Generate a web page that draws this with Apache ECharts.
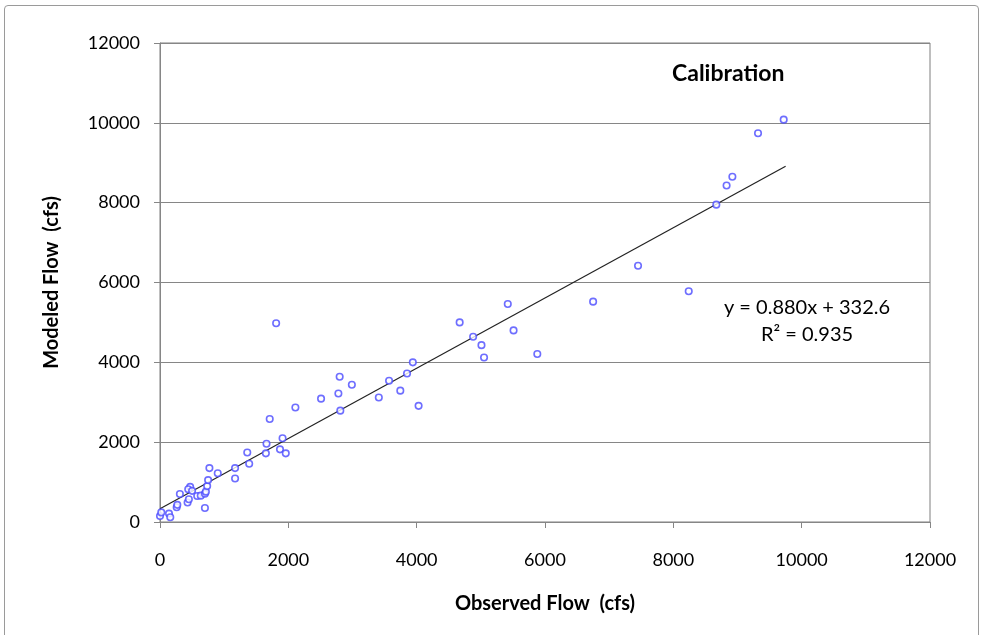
<!DOCTYPE html>
<html>
<head>
<meta charset="utf-8">
<script src="https://cdn.jsdelivr.net/npm/echarts@6/dist/echarts.min.js"></script>
<style>
  html, body { margin: 0; padding: 0; background: #fff; }
  .frame {
    position: absolute; left: 4px; top: 5px; width: 975px; height: 640px;
    border: 1px solid #9a9a9a; border-radius: 4px; box-sizing: border-box;
  }
  #main { position: absolute; left: 0; top: 0; width: 983px; height: 635px; }
</style>
</head>
<body>
<div class="frame"></div>
<div id="main"></div>
<script>
// observed / modeled pairs (cfs)
const observed = [0, 20, 140, 160, 260, 270, 310, 430, 450, 470, 440, 500, 580, 635, 700, 715, 735, 750, 700, 770,
  900, 1170, 1170, 1360, 1390, 1650, 1660, 1870, 1910, 1960, 1710, 2110, 1810, 2510, 2780, 2800, 2810, 2990, 3410, 3570,
  3745, 3850, 3940, 4030, 4670, 4880, 5010, 5050, 5420, 5510, 5880, 6750, 7450, 8240, 8670, 8830, 8920, 9320, 9720]
const modeled = [150, 240, 210, 120, 370, 430, 700, 490, 570, 880, 820, 780, 650, 660, 710, 760, 900, 1050, 350, 1350,
  1220, 1350, 1090, 1740, 1460, 1720, 1960, 1820, 2100, 1720, 2580, 2870, 4980, 3090, 3220, 3640, 2790, 3440, 3120, 3540,
  3290, 3720, 4000, 2910, 5000, 4640, 4430, 4120, 5460, 4800, 4210, 5520, 6420, 5780, 7950, 8430, 8650, 9740, 10080]
const axisTicks = [0, 2000, 4000, 6000, 8000, 10000, 12000]
// linear trend shown on the chart
const slope = 0.880
const intercept = 332.6
const trendX = [0, 9750]

const points = observed.map((x, i) => [x, modeled[i]])
const trend = trendX.map(x => [x, slope * x + intercept])

const font = 'Lato, "Open Sans", sans-serif'
const myChart = echarts.init(document.getElementById('main'))
myChart.setOption({
  animation: false,
  grid: {
    left: 160, top: 43, width: 770, height: 479,
    show: true, borderColor: '#7f7f7f', borderWidth: 1, backgroundColor: '#fff'
  },
  xAxis: {
    type: 'value',
    min: axisTicks[0], max: axisTicks[axisTicks.length - 1], interval: 2000,
    name: 'Observed Flow  (cfs)',
    nameLocation: 'middle',
    nameGap: 72,
    nameTextStyle: { fontFamily: font, fontWeight: 'bold', fontSize: 20, color: '#000' },
    axisLine: { lineStyle: { color: '#868686' } },
    axisTick: { show: true, length: 6, inside: false, lineStyle: { color: '#868686' } },
    axisLabel: { margin: 29, fontFamily: font, fontSize: 18, color: '#000', formatter: v => String(v) },
    splitLine: { show: false }
  },
  yAxis: {
    type: 'value',
    min: axisTicks[0], max: axisTicks[axisTicks.length - 1], interval: 2000,
    name: 'Modeled Flow  (cfs)',
    nameLocation: 'middle',
    nameGap: 98,
    nameTextStyle: { fontFamily: font, fontWeight: 'bold', fontSize: 20, color: '#000' },
    axisLine: { show: true, lineStyle: { color: '#868686' } },
    axisTick: { show: true, length: 6, lineStyle: { color: '#868686' } },
    axisLabel: { margin: 20, fontFamily: font, fontSize: 18, color: '#000', formatter: v => String(v) },
    splitLine: { show: true, lineStyle: { color: '#868686', width: 1 } }
  },
  series: [
    {
      name: 'Calibration',
      type: 'scatter',
      data: points,
      symbol: 'circle',
      symbolSize: 6.5,
      itemStyle: { color: '#fff', borderColor: '#4a4aff', borderWidth: 1.6 },
      z: 3
    },
    {
      name: 'Trend',
      type: 'line',
      data: trend,
      symbol: 'none',
      lineStyle: { color: '#222', width: 1.2 },
      z: 2
    }
  ],
  graphic: [
    {
      type: 'text', left: 672, top: 62,
      style: { text: 'Calibration', font: 'bold 23px ' + font, fill: '#000' }
    },
    {
      type: 'text', x: 807, y: 298,
      style: { text: 'y = 0.880x + 332.6', font: '20px ' + font, fill: '#000', align: 'center', verticalAlign: 'top' }
    },
    {
      type: 'text', x: 807, y: 325,
      style: { text: 'R² = 0.935', font: '20px ' + font, fill: '#000', align: 'center', verticalAlign: 'top' }
    }
  ]
})
</script>
</body>
</html>
